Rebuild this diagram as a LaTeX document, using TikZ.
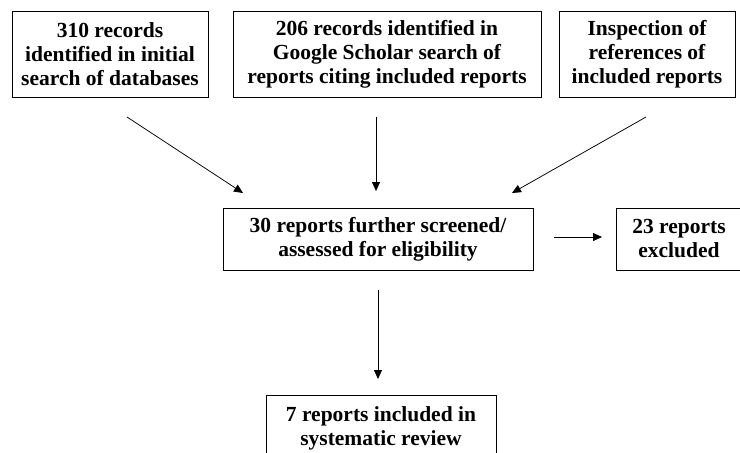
\documentclass[tikz,border=0pt]{standalone}
\usepackage{fontspec}
\setmainfont{Liberation Serif}
\usetikzlibrary{arrows.meta}
\begin{document}
\begin{tikzpicture}[x=1pt,y=-1pt,
  box/.style={draw, line width=0.8pt, inner sep=0pt},
  lbl/.style={font=\bfseries\fontsize{21.5}{24}\selectfont, align=center},
  arr/.style={-{Triangle[length=9pt,width=8pt]}, line width=0.75pt}]
\useasboundingbox (0,0) rectangle (740,453);
\clip (0,0) rectangle (740,453);
\node[box, lbl, minimum width=196, minimum height=86] (b1) at (110,54)
  {310 records\\identified in initial\\search of databases};
\node[box, lbl, minimum width=308, minimum height=86] (b2) at (387,54)
  {206 records identified in\\Google Scholar search of\\reports citing included reports};
\node[box, lbl, minimum width=176, minimum height=86] (b3) at (647,54)
  {Inspection of\\references of\\included reports};
\node[box, lbl, minimum width=310, minimum height=62] (mid) at (378,239)
  {30 reports further screened/\\assessed for eligibility};
\node[box, lbl, minimum width=126, minimum height=62] (exc) at (679,239)
  {23 reports\\excluded};
\node[box, lbl, minimum width=230, minimum height=66] (fin) at (381,428)
  {7 reports included in\\systematic review};
\coordinate (a1s) at (127,117); \coordinate (a1e) at (243,193);
\coordinate (a2s) at (376,117); \coordinate (a2e) at (376,191);
\coordinate (a3s) at (646,117); \coordinate (a3e) at (512,193);
\coordinate (a4s) at (554,237); \coordinate (a4e) at (602,237);
\coordinate (a5s) at (378,290); \coordinate (a5e) at (378,379);
\draw[arr] (a1s) -- (a1e);
\draw[arr] (a2s) -- (a2e);
\draw[arr] (a3s) -- (a3e);
\draw[arr] (a4s) -- (a4e);
\draw[arr] (a5s) -- (a5e);
\end{tikzpicture}
\end{document}
